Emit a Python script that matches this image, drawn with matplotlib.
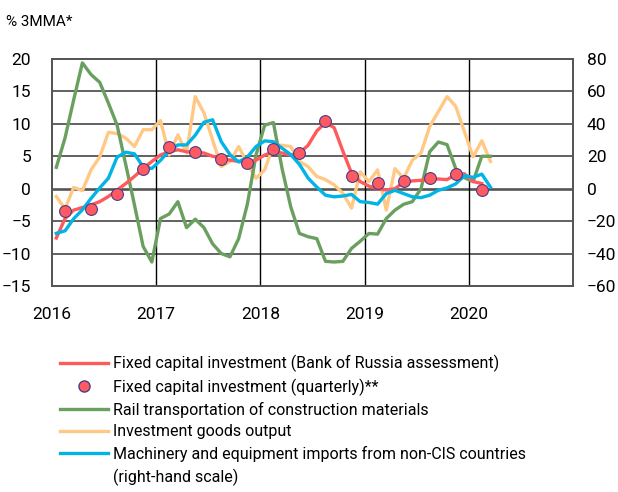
import numpy as np
import matplotlib
matplotlib.use("Agg")
import matplotlib.pyplot as plt
from matplotlib.lines import Line2D

plt.rcParams['font.family'] = ['Roboto', 'DejaVu Sans']

# monthly series, Jan 2016 onwards
fci_assessment = [-7.6, -4.6, -3.3, -2.9, -2.5, -2.0, -1.2, -0.2, 0.8, 1.9,
                  3.1, 4.2, 5.2, 5.7, 6.0, 5.7, 5.6, 5.5, 5.0, 4.7,
                  4.4, 4.2, 4.1, 4.4, 5.2, 5.7, 5.5, 5.2, 5.5, 6.7,
                  8.9, 10.2, 9.4, 5.8, 2.4, 1.1, 0.4, 0.0, -0.2, 0.0,
                  1.0, 1.2, 1.3, 1.4, 1.5, 1.4, 2.2, 2.3, 1.1, 0.8]
rail = [3.3, 7.8, 13.7, 19.4, 17.6, 16.4, 13.2, 9.8, 3.7, -2.5,
        -8.9, -11.3, -4.6, -3.9, -2.0, -6.0, -4.7, -6.0, -8.5, -10.0,
        -10.5, -7.7, -2.4, 5.2, 9.8, 10.2, 3.1, -2.8, -6.9, -7.4,
        -7.7, -11.2, -11.3, -11.2, -9.2, -8.1, -6.9, -7.0, -4.6, -3.3,
        -2.4, -2.0, 0.0, 5.7, 7.2, 6.8, 3.1, 1.7, 1.1, 5.0, 5.0]
inv_goods = [-1.2, -3.1, 0.2, -0.3, 2.9, 4.9, 8.7, 8.5, 7.8, 6.5,
             9.1, 9.1, 10.5, 5.2, 8.3, 5.5, 14.2, 11.7, 7.5, 3.4,
             4.2, 6.5, 3.9, 1.6, 2.9, 6.7, 6.7, 6.5, 4.2, 3.4,
             1.9, 1.4, 0.6, -0.7, -3.0, 2.6, 1.1, 2.9, -3.3, 3.1,
             1.6, 4.4, 5.5, 9.6, 11.9, 14.2, 12.7, 8.8, 4.9, 7.4, 4.2]
imports_rhs = [-27.5, -26, -18.5, -13, -6, 0.5, 6.5, 19.5, 22.5, 21.5,
               13.5, 12.5, 17.5, 23.5, 27, 27, 33, 41, 42.5, 29,
               21, 16.5, 19.5, 26, 29.5, 29, 25, 21, 15, 6.5,
               1, -4, -5, -4.5, -3.5, -8, -8.5, -9.5, -3, -1,
               -3, -5, -5.5, -4, -1, 0.5, 3, 8, 7, 9, 1]
# quarterly values, plotted at mid-quarter months
fci_quarterly = [-3.5, -3.1, -0.8, 3.1, 6.4, 5.7, 4.6, 4.0, 6.1, 5.5,
                 10.4, 2.0, 0.9, 1.2, 1.7, 2.3, -0.2]

years = [2016, 2017, 2018, 2019, 2020]

def month_x(n, start=0, step=1):
    return 2016 + (np.arange(n) * step + start + 0.5) / 12

fig = plt.figure(figsize=(6.18, 4.92), dpi=100)
ax = fig.add_axes([0.0841, 0.4187, 0.843, 0.4614])
ax2 = ax.twinx()

red = '#ff5a5a'
green = '#6a9f60'
orange = '#ffc985'
blue = '#00b4e6'
lw = 2.4

ax.plot(month_x(len(inv_goods)), inv_goods, color=orange, lw=lw, zorder=3)
ax.plot(month_x(len(rail)), rail, color=green, lw=lw, zorder=3)
ax.plot(month_x(len(fci_assessment)), fci_assessment, color=red, lw=lw, zorder=4)
ax2.plot(month_x(len(imports_rhs)), imports_rhs, color=blue, lw=lw, zorder=5)
ax2.plot(month_x(len(fci_quarterly), start=1, step=3), np.array(fci_quarterly) * 4,
         'o', ms=8.5, mfc='#ff5a5f', mec='#4b3c8c', mew=0.8, zorder=6)

ax.set_xlim(2016, 2021)
ax.set_ylim(-15, 20)
ax2.set_ylim(-60, 80)
ax.set_yticks(range(-15, 21, 5))
ax2.set_yticks(range(-60, 81, 20))
ax.set_xticks(years)
ax.set_xticklabels([str(y) for y in years])
for y in range(-10, 20, 5):
    ax.axhline(y, color='#555555', lw=1.9 if y == 0 else 1.3, zorder=1)
for y in years[1:]:
    ax.axvline(y, color='black', lw=1.0, zorder=1)
for a in (ax, ax2):
    a.tick_params(length=0, labelsize=12.5, colors='black')
    for s in a.spines.values():
        s.set_color('#555555')
        s.set_linewidth(1.3)
ax.tick_params(axis='y', pad=15)
ax.tick_params(axis='x', pad=15)
ax2.tick_params(axis='y', pad=10)

fig.text(0.01, 0.955, '% 3MMA*', fontsize=11, va='center')

handles = [Line2D([], [], color=red, lw=lw),
           Line2D([], [], ls='none', marker='o', ms=8, mfc='#ff5a5f', mec='#4b3c8c'),
           Line2D([], [], color=green, lw=lw),
           Line2D([], [], color=orange, lw=lw),
           Line2D([], [], color=blue, lw=lw),
           Line2D([], [], ls='none')]
labels = ['Fixed capital investment (Bank of Russia assessment)',
          'Fixed capital investment (quarterly)**',
          'Rail transportation of construction materials',
          'Investment goods output',
          'Machinery and equipment imports from non-CIS countries',
          '(right-hand scale)']
fig.legend(handles, labels, loc='upper left', bbox_to_anchor=(0.097, 0.279),
           frameon=False, fontsize=11.5, handlelength=3.0, handletextpad=0.3,
           labelspacing=0.4, borderaxespad=0, borderpad=0)

fig.savefig('out.png', dpi=100)
